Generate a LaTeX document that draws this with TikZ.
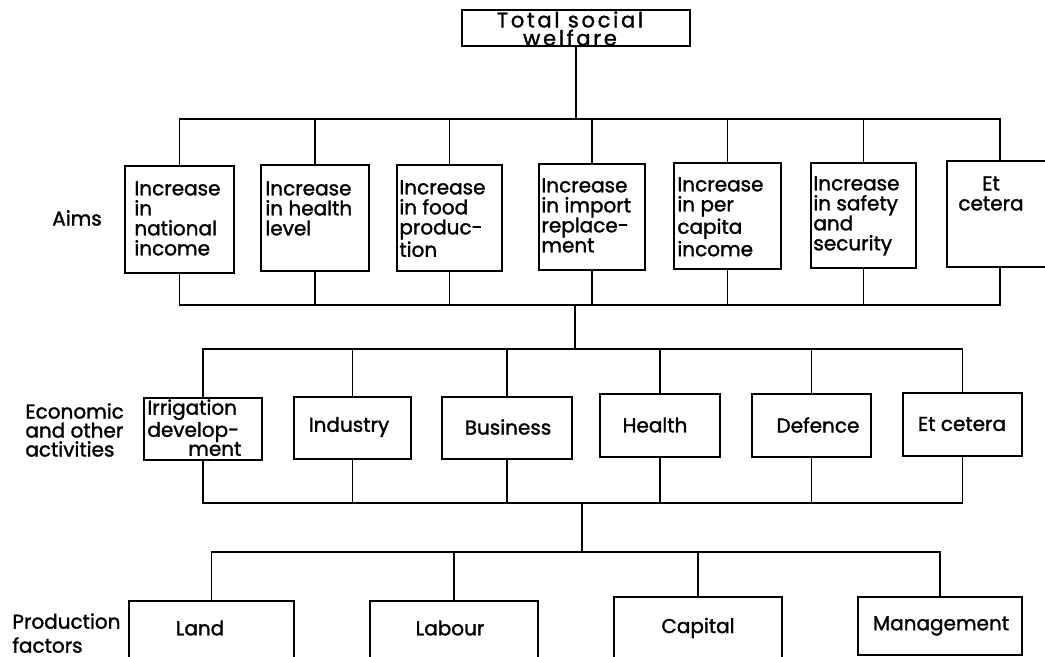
\documentclass[tikz,border=0pt]{standalone}
\usepackage{fontspec}
\setmainfont{Poppins}[FakeBold=1.5]
\newfontfamily\widefont{Poppins}[FakeBold=1.5, LetterSpace=13]
\begin{document}
\begin{tikzpicture}[x=0.5pt,y=-0.5pt,
  wire/.style={line width=0.9pt},
  box/.style={draw, line width=0.9pt, inner sep=0pt, fill=white},
  txt/.style={inner sep=0pt, align=left, font=\fontsize{10}{10}\selectfont},
  ctxt/.style={inner sep=0pt, align=center, font=\fontsize{10}{10}\selectfont},
  side/.style={inner sep=0pt, align=left, font=\fontsize{10}{9.5}\selectfont}]
\useasboundingbox (0,0) rectangle (1045,657);
\clip (0,0) rectangle (1045,657);

% bus levels
\coordinate (b1) at (0,119);
\coordinate (b2) at (0,305);
\coordinate (b3) at (0,349);
\coordinate (b4) at (0,503);
\coordinate (b5) at (0,552);

% top
\node[box, minimum width=114pt, minimum height=18pt] (T) at (576,28) {};
\node[ctxt, anchor=north, font=\widefont\fontsize{10.5}{7.5}\selectfont] (Tt) at (570,11) {Total social\\welfare};

% aims
\node[side] (lAims) at (77,218) {Aims};
\node[box, minimum width=54.5pt, minimum height=53.5pt] (A1) at (179.5,219.5) {};
\node[box, minimum width=54pt,   minimum height=53pt]   (A2) at (315,218) {};
\node[box, minimum width=52.5pt, minimum height=53pt]   (A3) at (449.5,218) {};
\node[box, minimum width=53pt,   minimum height=53pt]   (A4) at (592,217) {};
\node[box, minimum width=53.5pt, minimum height=53pt]   (A5) at (727.5,216) {};
\node[box, minimum width=52.5pt, minimum height=52.5pt] (A6) at (863.5,215.5) {};
\node[box, minimum width=53pt,   minimum height=53pt]   (A7) at (1000,214) {};
\node[txt, anchor=north west] (A1t) at (134,181) {Increase\\in\\national\\income};
\node[txt, anchor=north west] (A2t) at (265,181) {Increase\\in health\\level};
\node[txt, anchor=north west] (A3t) at (399,180) {Increase\\in food\\produc-\\tion};
\node[txt, anchor=north west] (A4t) at (541,178) {Increase\\in import\\replace-\\ment};
\node[txt, anchor=north west] (A5t) at (677,177) {Increase\\in per\\capita\\income};
\node[txt, anchor=north west] (A6t) at (813,176) {Increase\\in safety\\and\\security};
\node[ctxt, anchor=north] (A7t) at (991,176) {Et\\cetera};

% activities
\node[side, anchor=west] (lAct) at (25,430) {Economic\\and other\\activities};
\node[box, minimum width=59pt,   minimum height=31pt]   (E1) at (203,429) {};
\node[box, minimum width=58.5pt, minimum height=31pt]   (E2) at (352.5,428) {};
\node[box, minimum width=65pt,   minimum height=31pt]   (E3) at (507,428) {};
\node[box, minimum width=60pt,   minimum height=31.5pt] (E4) at (660,425.5) {};
\node[box, minimum width=59.5pt, minimum height=31.5pt] (E5) at (811.5,425.5) {};
\node[box, minimum width=59.5pt, minimum height=31.5pt] (E6) at (962.5,424.5) {};
\node[txt, anchor=north west, text width=47pt, font=\fontsize{10}{9.5}\selectfont] (E1t) at (147,399)
  {Irrigation\\develop-\\\hspace*{\fill}ment};
\node[ctxt] (E2t) at (349,427) {Industry};
\node[ctxt] (E3t) at (508,427) {Business};
\node[ctxt] (E4t) at (655,425) {Health};
\node[ctxt] (E5t) at (818,425) {Defence};
\node[ctxt] (E6t) at (962,424) {Et cetera};

% production factors
\node[side, anchor=north west, font=\fontsize{10}{12}\selectfont] (lProd) at (12,613) {Production\\factors};
\node[box, minimum width=82.5pt, minimum height=34.5pt] (P1) at (211.5,635.5) {};
\node[box, minimum width=84pt,   minimum height=34.5pt] (P2) at (454,635.5) {};
\node[box, minimum width=84pt,   minimum height=36.5pt] (P3) at (698,633.5) {};
\node[box, minimum width=82pt,   minimum height=29pt]   (P4) at (940,626) {};
\node[ctxt] (P1t) at (200,628) {Land};
\node[ctxt] (P2t) at (450,628) {Labour};
\node[ctxt] (P3t) at (698,628) {Capital};
\node[ctxt] (P4t) at (941,626) {Management};

% top welfare to aims
\draw[wire] (T.south) -- (T.south |- b1);
\draw[wire] (A1.north) -- (A1.north |- b1) -- (A7.north |- b1) -- (A7.north);
\foreach \i in {2,...,6} \draw[wire] (A\i.north) -- (A\i.north |- b1);
\draw[wire] (A1.south) -- (A1.south |- b2) -- (A7.south |- b2) -- (A7.south);
\foreach \i in {2,...,6} \draw[wire] (A\i.south) -- (A\i.south |- b2);

% aims to activities
\coordinate (j1) at (575,305);
\draw[wire] (j1) -- (j1 |- b3);
\draw[wire] (E1.north) -- (E1.north |- b3) -- (E6.north |- b3) -- (E6.north);
\foreach \i in {2,...,5} \draw[wire] (E\i.north) -- (E\i.north |- b3);
\draw[wire] (E1.south) -- (E1.south |- b4) -- (E6.south |- b4) -- (E6.south);
\foreach \i in {2,...,5} \draw[wire] (E\i.south) -- (E\i.south |- b4);

% activities to production factors
\coordinate (j2) at (582,503);
\draw[wire] (j2) -- (j2 |- b5);
\draw[wire] (P1.north) -- (P1.north |- b5) -- (P4.north |- b5) -- (P4.north);
\foreach \i in {2,3} \draw[wire] (P\i.north) -- (P\i.north |- b5);
\end{tikzpicture}
\end{document}
